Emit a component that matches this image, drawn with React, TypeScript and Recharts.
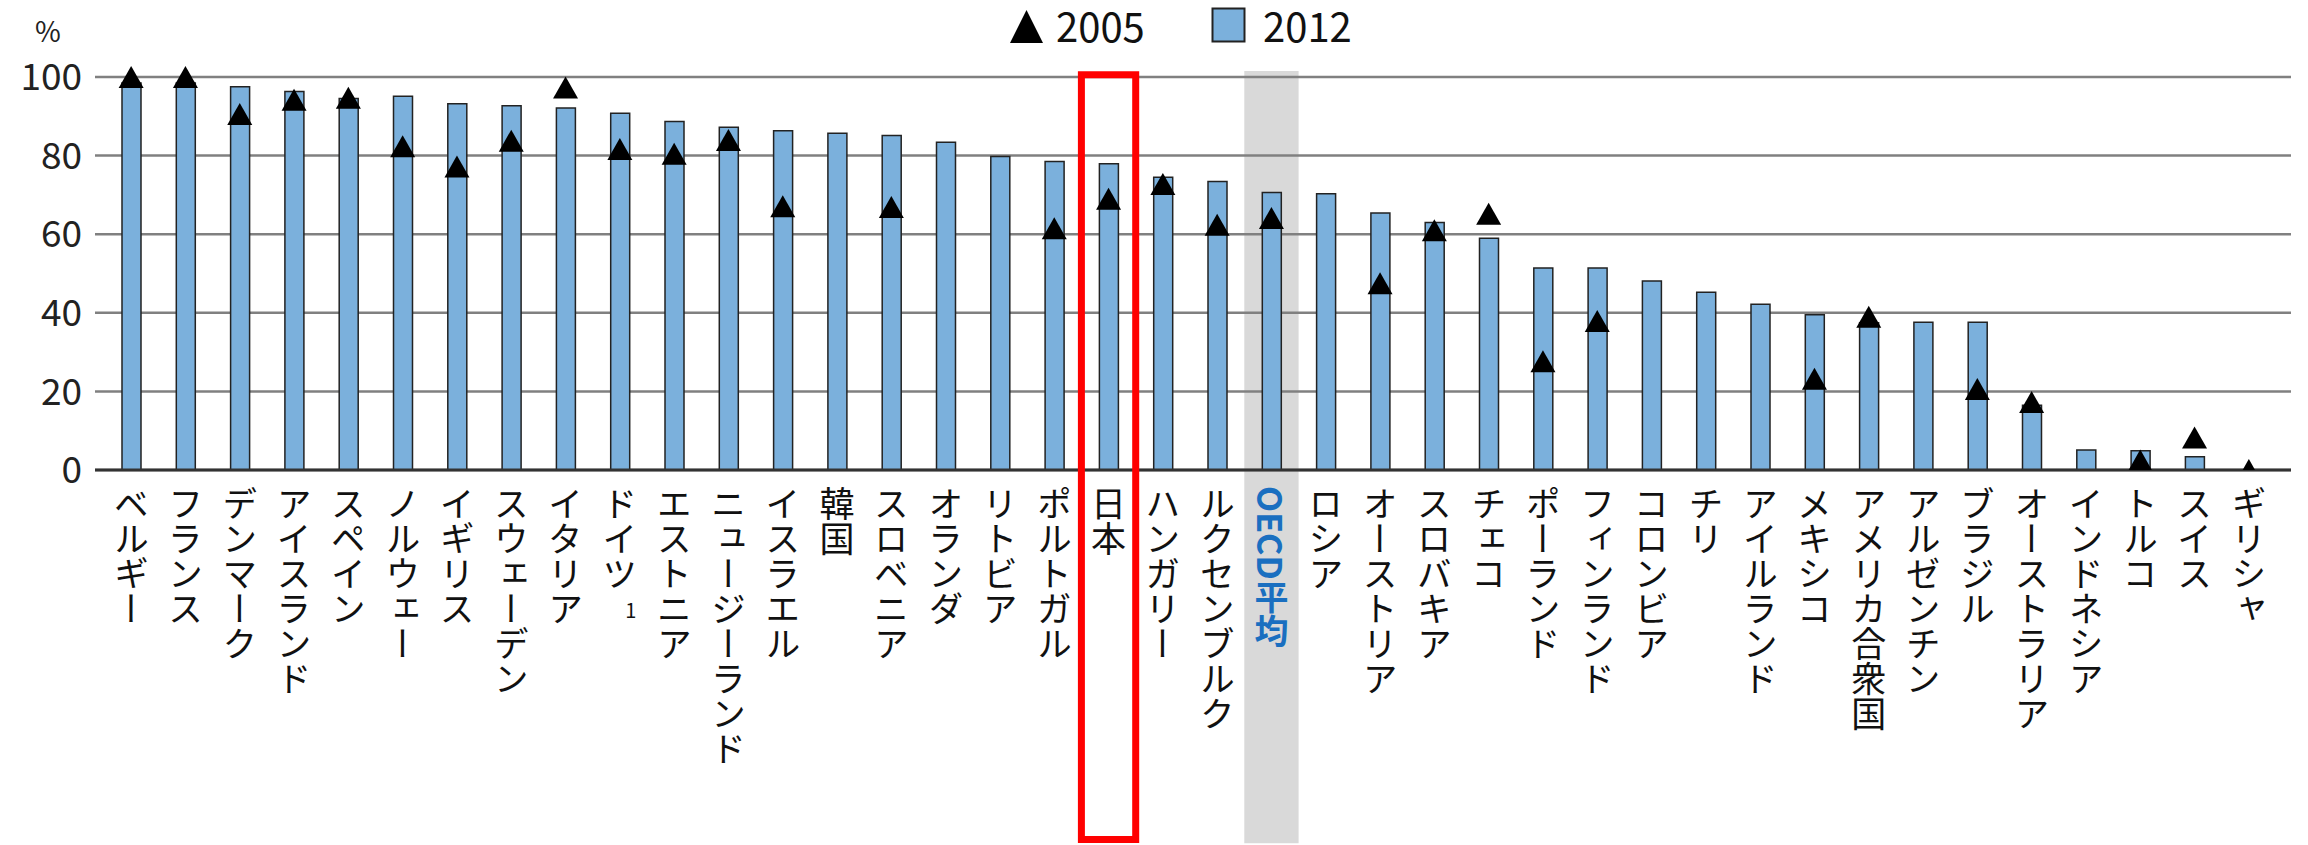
import React from 'react';
import { ComposedChart, Bar, Line, XAxis, YAxis, CartesianGrid, Legend, ReferenceArea } from 'recharts';

// countries in the order they appear
const countries = [
  'ベルギー', 'フランス', 'デンマーク', 'アイスランド', 'スペイン', 'ノルウェー', 'イギリス', 'スウェーデン',
  'イタリア', 'ドイツ', 'エストニア', 'ニュージーランド', 'イスラエル', '韓国', 'スロベニア', 'オランダ',
  'リトビア', 'ポルトガル', '日本', 'ハンガリー', 'ルクセンブルク', 'OECD平均', 'ロシア', 'オーストリア',
  'スロバキア', 'チェコ', 'ポーランド', 'フィンランド', 'コロンビア', 'チリ', 'アイルランド', 'メキシコ',
  'アメリカ合衆国', 'アルゼンチン', 'ブラジル', 'オーストラリア', 'インドネシア', 'トルコ', 'スイス', 'ギリシャ',
];

const rate2012 = [
  98.5, 98.5, 97.5, 96.3, 94.5, 95.1, 93.2, 92.7, 92.1, 90.8, 88.7, 87.2, 86.3, 85.7, 85.1, 83.4,
  79.8, 78.5, 77.9, 74.5, 73.4, 70.6, 70.3, 65.4, 63, 59, 51.4, 51.4, 48.1, 45.2, 42.2, 39.5,
  37.5, 37.6, 37.6, 16.5, 5.1, 4.9, 3.4, 0,
];

const rate2005 = [
  100, 100, 90.6, 94.2, 94.7, 82.4, 77.2, 83.8, 97.3, 81.7, 80.5, 84, 67.1, null, 66.9, null,
  null, 61.5, 69, 72.8, 62.4, 64.1, null, 47.5, 61, 65.2, 27.7, 37.9, null, null, null, 23.2,
  39, null, 20.6, 17.3, null, 2.4, 8.3, 0,
];

const yTicks = [0, 20, 40, 60, 80, 100];
const legendLabels = ['2005', '2012'];
const footnotes: Record<string, string> = { 'ドイツ': '1' };
const OECD = 'OECD平均';
const JAPAN = '日本';

const data = countries.map((name, i) => ({ name, v2012: rate2012[i], v2005: rate2005[i] }));

const FONT = '"Noto Sans CJK JP", "Noto Sans", sans-serif';
const BAR_FILL = '#7bb0dc';
const PLOT_TOP = 77;
const PLOT_BOTTOM = 470;

const Triangle = (props: any) => {
  const { cx, cy, value } = props;
  if (value == null || cx == null || cy == null) return null;
  const w = 25;
  const h = 22;
  const top = cy - h / 2;
  let bottom = cy + h / 2;
  let half = w / 2;
  // markers are clipped at the baseline
  if (bottom > PLOT_BOTTOM) {
    half = (w / 2) * ((PLOT_BOTTOM - top) / h);
    bottom = PLOT_BOTTOM;
  }
  return <polygon points={`${cx},${top} ${cx + half},${bottom} ${cx - half},${bottom}`} fill="#000" />;
};

const CountryTick = (props: any) => {
  const { x, y, payload } = props;
  const name: string = payload.value;
  const oecd = name === OECD;
  return (
    <g>
      <text
        x={x}
        y={y + 16}
        fontSize={oecd ? 34 : 35}
        fontWeight={oecd ? 700 : 400}
        fill={oecd ? '#1a6fc0' : '#111'}
        fontFamily={FONT}
        style={{ writingMode: 'vertical-rl', textOrientation: 'mixed' }}
      >
        {name}
      </text>
      {footnotes[name] && (
        <text x={x + 11} y={y + 148} fontSize={20} fill="#111" fontFamily={FONT} textAnchor="middle">
          {footnotes[name]}
        </text>
      )}
    </g>
  );
};

const LegendContent = () => (
  <svg width={380} height={62} style={{ display: 'block', overflow: 'visible' }}>
    <polygon points="26.5,10 43,43 10,43" fill="#000" />
    <text x={56} y={42} fontSize={40} fill="#111" fontFamily={FONT}>{legendLabels[0]}</text>
    <rect x={212.5} y={8.5} width={32} height={33} fill={BAR_FILL} stroke="#222" strokeWidth={2} />
    <text x={263} y={42} fontSize={40} fill="#111" fontFamily={FONT}>{legendLabels[1]}</text>
  </svg>
);

export default function App() {
  return (
    <div style={{ position: 'absolute', left: 0, top: 0 }}>
      <ComposedChart
        width={2308}
        height={845}
        data={data}
        margin={{ top: PLOT_TOP, right: 17, left: 0, bottom: 0 }}
        style={{ fontFamily: FONT }}
      >
        <ReferenceArea x1={OECD} x2={OECD} y1={-95} y2={101.5} ifOverflow="visible" fill="#d9d9d9" fillOpacity={1} zIndex={-150} />
        <CartesianGrid vertical={false} stroke="#808080" strokeWidth={2.5} />
        <XAxis
          dataKey="name"
          interval={0}
          tickLine={false}
          tickSize={0}
          tickMargin={0}
          height={845 - PLOT_BOTTOM}
          padding={{ left: 9, right: 15 }}
          axisLine={{ stroke: '#333', strokeWidth: 3 }}
          tick={<CountryTick />}
        />
        <YAxis
          domain={[0, 100]}
          ticks={yTicks}
          width={95}
          axisLine={false}
          tickLine={false}
          tickSize={0}
          tickMargin={13}
          tick={{ fontSize: 37, fill: '#222', fontFamily: FONT }}
          label={() => (
            <text x={48} y={42} fontSize={28} fill="#222" textAnchor="middle" fontFamily={FONT}>%</text>
          )}
        />
        <Legend verticalAlign="middle" align="center" content={<LegendContent />} wrapperStyle={{ left: 1000, top: 0, width: 380, height: 62 }} />
        <Bar dataKey="v2012" name="2012" barSize={19} fill={BAR_FILL} stroke="#222" strokeWidth={1.5} isAnimationActive={false} />
        <Line dataKey="v2005" name="2005" stroke="none" dot={<Triangle />} activeDot={false} isAnimationActive={false} connectNulls={false} />
        <ReferenceArea x1={JAPAN} x2={JAPAN} y1={-94} y2={100.6} ifOverflow="visible" fill="none" stroke="#ff0000" strokeWidth={7} zIndex={1500} />
      </ComposedChart>
    </div>
  );
}
